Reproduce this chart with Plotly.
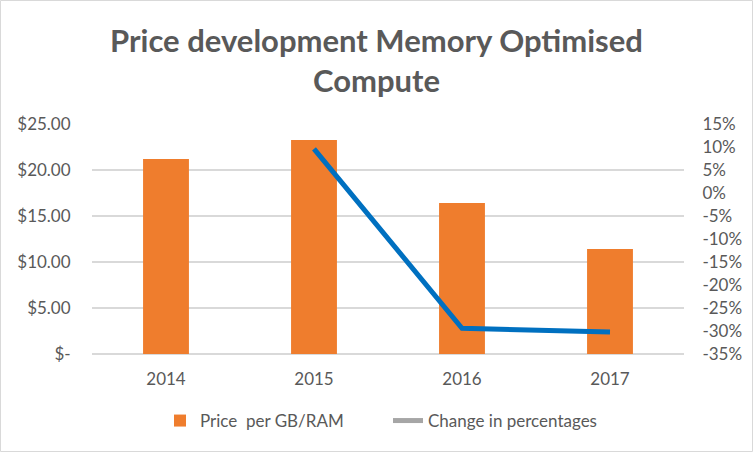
import plotly.graph_objects as go

years = ["2014", "2015", "2016", "2017"]
price_per_gb = [21.2, 23.25, 16.4, 11.4]
change_years = ["2015", "2016", "2017"]
change_pct = [9.6, -29.4, -30.2]

left_tickvals = [0, 5, 10, 15, 20, 25]
left_ticktext = ["$-", "$5.00", "$10.00", "$15.00", "$20.00", "$25.00"]
right_tickvals = [15, 10, 5, 0, -5, -10, -15, -20, -25, -30, -35]
right_ticktext = ["15%", "10%", "5%", "0%", "-5%", "-10%", "-15%", "-20%", "-25%", "-30%", "-35%"]

W, H = 753, 452
L, R, T, B = 92, 69, 124, 98
pw, ph = W - L - R, H - T - B

font_family = "Lato, 'Open Sans', sans-serif"
grey = "#595959"

fig = go.Figure()
fig.add_trace(go.Bar(
    x=years, y=price_per_gb, name="Price  per GB/RAM",
    marker=dict(color="#EF7D2D", line=dict(width=0)),
    yaxis="y",
))
fig.add_trace(go.Scatter(
    x=change_years, y=change_pct, name="Change in percentages",
    mode="lines", line=dict(color="#0070C0", width=5),
    yaxis="y2", showlegend=False,
))
fig.add_trace(go.Scatter(
    x=[None], y=[None], name="Change in percentages",
    mode="lines", line=dict(color="#A6A6A6", width=5),
    yaxis="y2",
))

fig.update_layout(
    width=W, height=H,
    margin=dict(l=L, r=R, t=T, b=B),
    paper_bgcolor="white", plot_bgcolor="white",
    font=dict(family=font_family, color=grey, size=17),
    title=dict(
        text="<b>Price development Memory Optimised<br>Compute</b>",
        x=0.5, xanchor="center", y=1 - 52 / H, yanchor="middle",
        font=dict(family=font_family, size=31, color=grey),
    ),
    bargap=0.69,
    xaxis=dict(
        categoryorder="array", categoryarray=years,
        showgrid=False, showline=False, zeroline=False,
        tickfont=dict(size=17, color=grey),
        ticks="outside", ticklen=10, tickcolor="rgba(0,0,0,0)",
    ),
    yaxis=dict(
        range=[0, 25], tickvals=left_tickvals, ticktext=left_ticktext,
        showgrid=True, gridcolor="#D9D9D9", gridwidth=1.5,
        zeroline=True, zerolinecolor="#D9D9D9", zerolinewidth=1.5,
        showline=False,
        tickfont=dict(size=17, color=grey),
        ticks="outside", ticklen=17, tickcolor="rgba(0,0,0,0)",
    ),
    yaxis2=dict(
        range=[-35, 15], tickvals=right_tickvals, ticktext=right_ticktext,
        overlaying="y", side="right",
        showgrid=False, zeroline=False, showline=False,
        tickfont=dict(size=17, color=grey),
        ticks="outside", ticklen=14, tickcolor="rgba(0,0,0,0)",
    ),
    legend=dict(
        orientation="h", x=(160 - L) / pw, xanchor="left",
        y=(T + ph - 421) / ph, yanchor="middle",
        font=dict(size=17, color=grey),
        bgcolor="rgba(0,0,0,0)",
        entrywidth=183, entrywidthmode="pixels",
    ),
    shapes=[dict(
        type="rect", xref="paper", yref="paper",
        x0=(0.5 - L) / pw, x1=(W - 0.5 - L) / pw,
        y0=(T + ph - (H - 0.5)) / ph, y1=(T + ph - 0.5) / ph,
        line=dict(color="#D9D9D9", width=1), layer="below",
    )],
)

fig.write_html("out.html")
